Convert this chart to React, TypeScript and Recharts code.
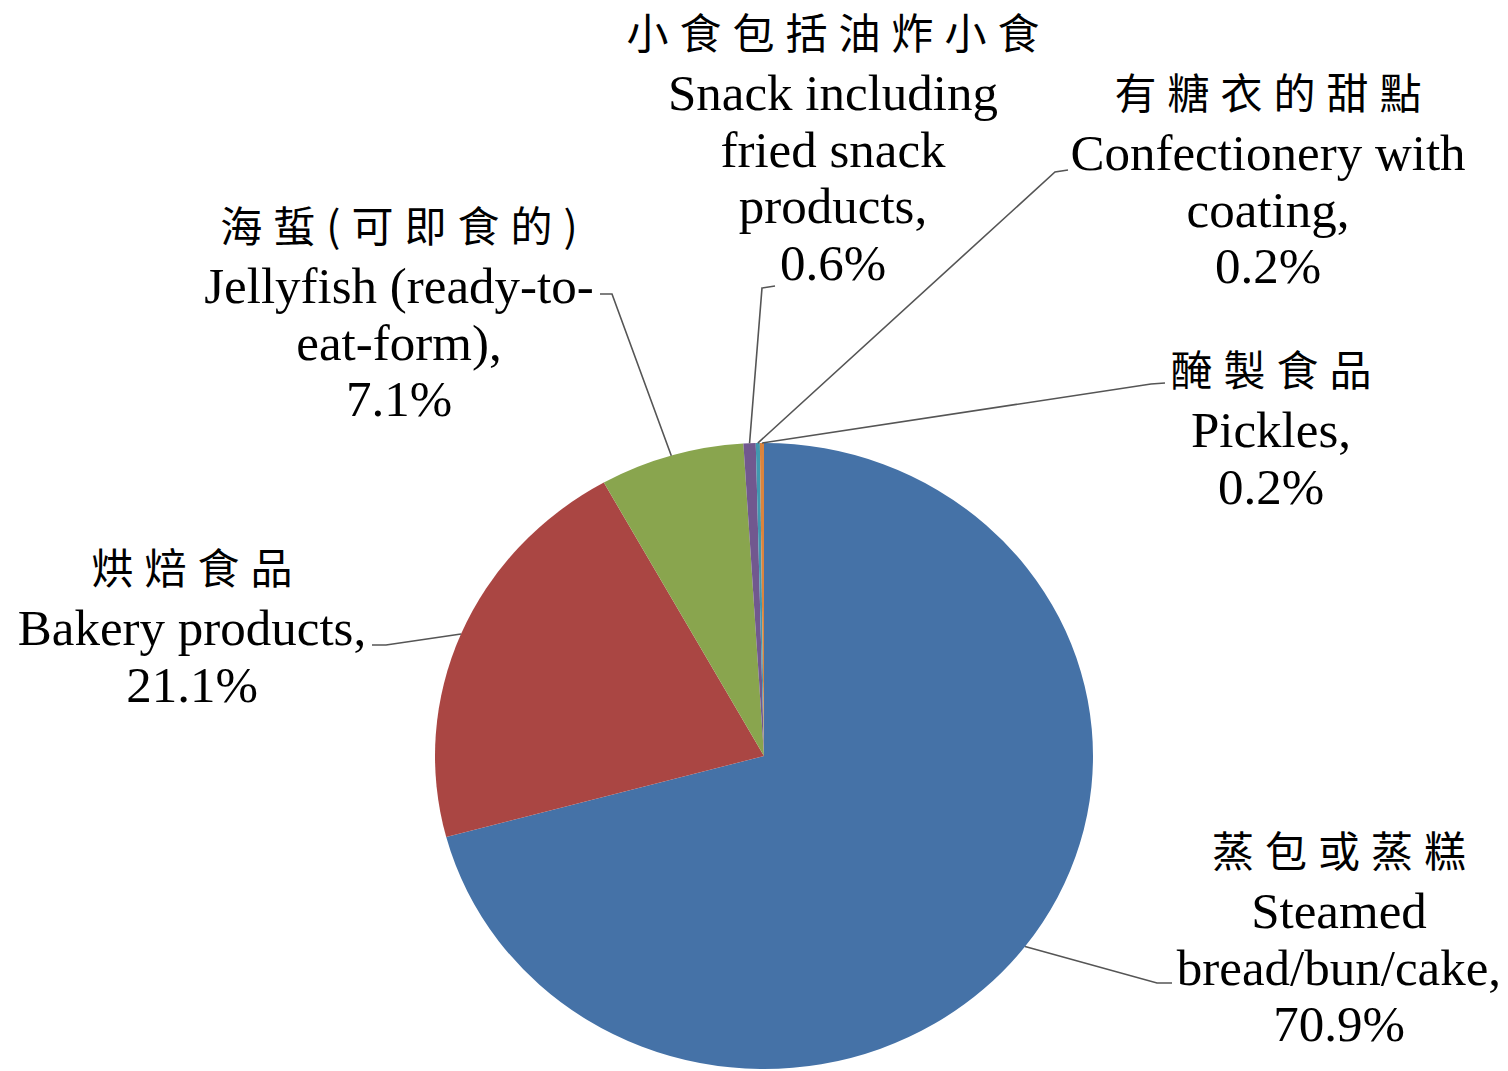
import React from 'react';
import { PieChart, Pie, Cell } from 'recharts';

const categoriesZh = ['蒸包或蒸糕', '烘焙食品', '海蜇(可即食的)', '小食包括油炸小食', '有糖衣的甜點', '醃製食品'];
const categoriesEn = [
  ['Steamed', 'bread/bun/cake'],
  ['Bakery products'],
  ['Jellyfish (ready-to-', 'eat-form)'],
  ['Snack including', 'fried snack', 'products'],
  ['Confectionery with', 'coating'],
  ['Pickles'],
];
const shares = [70.9, 21.1, 7.1, 0.6, 0.2, 0.2];
const sliceColors = ['#4572A7', '#AA4643', '#89A54E', '#71588F', '#4198AF', '#DB843D'];

// label layout (text block centre x, first English baseline y, leader bend and end points)
const labelLayout = [
  { x: 1339, y: 928, bend: [1157, 983], end: [1172, 983] },
  { x: 192, y: 645, bend: [386, 645], end: [372, 645] },
  { x: 399, y: 303, bend: [612, 294], end: [600, 294] },
  { x: 833, y: 110, bend: [762, 288], end: [775, 286] },
  { x: 1268, y: 170, bend: [1055, 172], end: [1068, 170] },
  { x: 1271, y: 447, bend: [1151, 384], end: [1165, 383] },
];

const CX = 764;
const CY = 756;
const RX = 329;
const RY = 313;
const Y_SCALE = RY / RX;
const LINE_H = 56.5;

const data = categoriesZh.map((zh, i) => ({ name: zh, en: categoriesEn[i], value: shares[i] }));

const renderLabel = (props: any) => {
  const { cx, cy, midAngle, outerRadius, index } = props;
  const L = labelLayout[index];
  const rad = Math.PI / 180;
  const sx = cx + outerRadius * Math.cos(-midAngle * rad);
  const sy = cy + outerRadius * Math.sin(-midAngle * rad) * Y_SCALE;
  const lines = [...categoriesEn[index]];
  lines[lines.length - 1] = lines[lines.length - 1] + ',';
  lines.push(`${shares[index].toFixed(1)}%`);
  return (
    <g key={`lbl-${index}`}>
      <polyline
        points={`${sx},${sy} ${L.bend[0]},${L.bend[1]} ${L.end[0]},${L.end[1]}`}
        fill="none"
        stroke="#555555"
        strokeWidth={1.6}
      />
      <text
        x={L.x + 5.5}
        y={L.y - 61}
        textAnchor="middle"
        fontFamily="'Noto Sans CJK TC', 'Noto Sans CJK SC', sans-serif"
        fontSize={42}
        fontWeight={400}
        letterSpacing={11}
        fill="#000"
      >
        {categoriesZh[index]}
      </text>
      <text textAnchor="middle" fontFamily="'Liberation Serif', 'Times New Roman', serif" fontSize={51} fill="#000">
        {lines.map((t, i) => (
          <tspan key={i} x={L.x} y={L.y + i * LINE_H}>
            {t}
          </tspan>
        ))}
      </text>
    </g>
  );
};

export default function App() {
  return (
    <div style={{ position: 'absolute', left: 0, top: 0, width: 1508, height: 1071, background: '#fff' }}>
      <style>{`.recharts-pie-sector { transform-origin: ${CX}px ${CY}px; transform: scaleY(${Y_SCALE}); }`}</style>
      <PieChart width={1508} height={1071} margin={{ top: 0, right: 0, bottom: 0, left: 0 }}>
        <Pie
          data={data}
          dataKey="value"
          nameKey="name"
          cx={CX}
          cy={CY}
          outerRadius={RX}
          startAngle={90}
          endAngle={-270}
          stroke="none"
          isAnimationActive={false}
          labelLine={false}
          label={renderLabel}
        >
          {data.map((d, i) => (
            <Cell key={d.name} fill={sliceColors[i]} />
          ))}
        </Pie>
      </PieChart>
    </div>
  );
}
